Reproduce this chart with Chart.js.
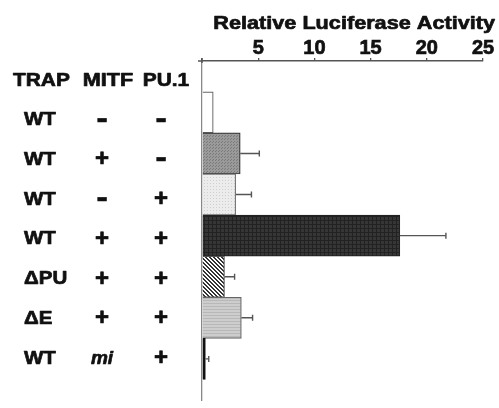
<!DOCTYPE html>
<html>
<head>
<meta charset="utf-8">
<script src="https://cdn.jsdelivr.net/npm/chart.js@4"></script>
<style>
  html, body { margin: 0; padding: 0; background: #fff; }
  #wrap { width: 499px; height: 408px; }
</style>
</head>
<body>
<div id="wrap"><canvas id="c" width="499" height="408"></canvas></div>
<script>
/* ── data ── */
const trapLabels = ['WT', 'WT', 'WT', 'WT', '\u0394PU', '\u0394E', 'WT'];
const mitfLabels = ['-', '+', '-', '+', '+', '+', 'mi'];
const pu1Labels  = ['-', '-', '+', '+', '+', '+', '+'];
const activity   = [1.0, 3.4, 3.0, 17.6, 2.0, 3.5, 0.3];
const errors     = [0, 1.7, 1.4, 4.1, 0.9, 1.0, 0.3];
const xTicks     = [5, 10, 15, 20, 25];
const headers    = ['TRAP', 'MITF', 'PU.1'];
const axisTitle  = 'Relative Luciferase Activity';

const FONT = '"Liberation Sans", Arial, sans-serif';

/* ── fill patterns ── */
function makePattern(w, h, bg, draw) {
  const p = document.createElement('canvas');
  p.width = w; p.height = h;
  const g = p.getContext('2d');
  g.fillStyle = bg; g.fillRect(0, 0, w, h);
  draw(g);
  return document.getElementById('c').getContext('2d').createPattern(p, 'repeat');
}
const fills = [
  '#ffffff',
  makePattern(3, 3, '#9a9a9a', g => { g.fillStyle = '#7a7a7a'; g.fillRect(0, 0, 1, 1); g.fillRect(2, 1, 1, 1); }),
  makePattern(3, 3, '#ececec', g => { g.fillStyle = '#cfcfcf'; g.fillRect(0, 0, 1, 1); }),
  makePattern(4, 4, '#363636', g => { g.fillStyle = '#222'; g.fillRect(0, 0, 1, 4); g.fillRect(0, 0, 4, 1); }),
  makePattern(4, 4, '#ffffff', g => {
    g.fillStyle = '#333';
    for (let i = 0; i < 4; i++) { g.fillRect(i, i, 1, 1); g.fillRect((i + 1) % 4, i, 1, 1); }
  }),
  makePattern(3, 3, '#cdcdcd', g => { g.fillStyle = '#b8b8b8'; g.fillRect(0, 0, 3, 1); }),
  '#111111',
];

// heavy, slightly widened lettering like the original figure
function wideText(ctx, text, x, y, sx) {
  ctx.save();
  ctx.translate(x, y);
  ctx.scale(sx, 1);
  ctx.strokeStyle = ctx.fillStyle;
  ctx.lineWidth = 0.7;
  ctx.lineJoin = 'round';
  ctx.fillText(text, 0, 0);
  ctx.strokeText(text, 0, 0);
  ctx.restore();
}

/* ── error bars + left table + title ── */
const overlay = {
  id: 'overlay',
  afterDatasetsDraw(chart) {
    const { ctx, scales: { x, y } } = chart;
    const half = 3;
    ctx.save();
    ctx.strokeStyle = '#555';
    ctx.lineWidth = 1.4;
    activity.forEach((v, i) => {
      if (!errors[i]) return;
      const cy = y.getPixelForValue(i);
      const x0 = x.getPixelForValue(v), x1 = x.getPixelForValue(v + errors[i]);
      ctx.beginPath();
      ctx.moveTo(x0, cy); ctx.lineTo(x1, cy);
      ctx.moveTo(x1, cy - half); ctx.lineTo(x1, cy + half);
      ctx.stroke();
    });
    // short stub of the top axis left of zero
    ctx.lineWidth = 1.5;
    ctx.beginPath();
    ctx.moveTo(x.left - 4, x.bottom); ctx.lineTo(x.left, x.bottom);
    ctx.moveTo(x.left, x.bottom - 3); ctx.lineTo(x.left, x.bottom + 2);
    ctx.stroke();
    ctx.restore();
  },
  afterDraw(chart) {
    const { ctx, scales: { x, y } } = chart;
    ctx.save();
    ctx.fillStyle = '#111';
    ctx.textBaseline = 'middle';

    // axis title
    ctx.font = 'bold 19px ' + FONT;
    ctx.textAlign = 'right';
    wideText(ctx, axisTitle, 495, 24, 1.14);

    // column headers
    const hy = y.getPixelForValue(-0.76);
    ctx.textAlign = 'left';
    wideText(ctx, headers[0], 13, hy, 1.1);
    ctx.textAlign = 'center';
    wideText(ctx, headers[1], 108, hy, 1.14);
    wideText(ctx, headers[2], 166, hy, 1.1);

    // rows
    trapLabels.forEach((t, i) => {
      const cy = y.getPixelForValue(i) + 7.5 - i * 1.3;
      ctx.font = 'bold 19px ' + FONT;
      ctx.textAlign = 'left';
      wideText(ctx, t, 24, cy, 1.08);
      ctx.textAlign = 'center';
      [[mitfLabels[i], 102], [pu1Labels[i], 161]].forEach(([s, cx]) => {
        if (s === 'mi') ctx.font = 'italic bold 19px ' + FONT;
        else if (s === '-') ctx.font = 'bold 32px ' + FONT;
        else ctx.font = 'bold 24px ' + FONT;
        wideText(ctx, s, cx, s === '-' ? cy - 1 : cy, s === '-' ? 1.05 : 1);
      });
    });
    ctx.restore();
  }
};

new Chart(document.getElementById('c'), {
  type: 'bar',
  data: {
    datasets: [{
      data: activity.map((v, i) => ({ x: v, y: i })),
      backgroundColor: fills,
      borderColor: ['#666', '#333', '#777', '#222', '#555', '#666', '#111'],
      borderWidth: 1.2,
      borderSkipped: 'left',
      barPercentage: 1,
      categoryPercentage: 1,
    }]
  },
  options: {
    indexAxis: 'y',
    responsive: false,
    animation: false,
    layout: { padding: { top: 0, right: 16, bottom: 8, left: 0 } },
    plugins: { legend: { display: false }, tooltip: { enabled: false } },
    scales: {
      x: {
        type: 'linear',
        position: 'top',
        min: 0, max: 25,
        afterFit: s => { s.height = 61; },
        afterBuildTicks: s => { s.ticks = [0, ...xTicks].map(v => ({ value: v })); },
        grid: { drawOnChartArea: false, tickLength: 3, color: '#555', lineWidth: 1.3 },
        border: { color: '#555', width: 1.5 },
        ticks: {
          color: '#111', padding: -2,
          textStrokeColor: '#111', textStrokeWidth: 0.7,
          font: { family: FONT, size: 20, weight: 'bold' },
          callback: v => (xTicks.includes(v) ? String(v) : ''),
        },
      },
      y: {
        type: 'linear',
        offset: false,
        min: -1.25, max: 7,
        reverse: true,
        afterFit: s => { s.width = 202; },
        afterBuildTicks: s => { s.ticks = activity.map((_, i) => ({ value: i })); },
        grid: { display: false, offset: false },
        border: { color: '#888', width: 1.3 },
        ticks: { display: false },
      }
    }
  },
  plugins: [overlay]
});
</script>
</body>
</html>
